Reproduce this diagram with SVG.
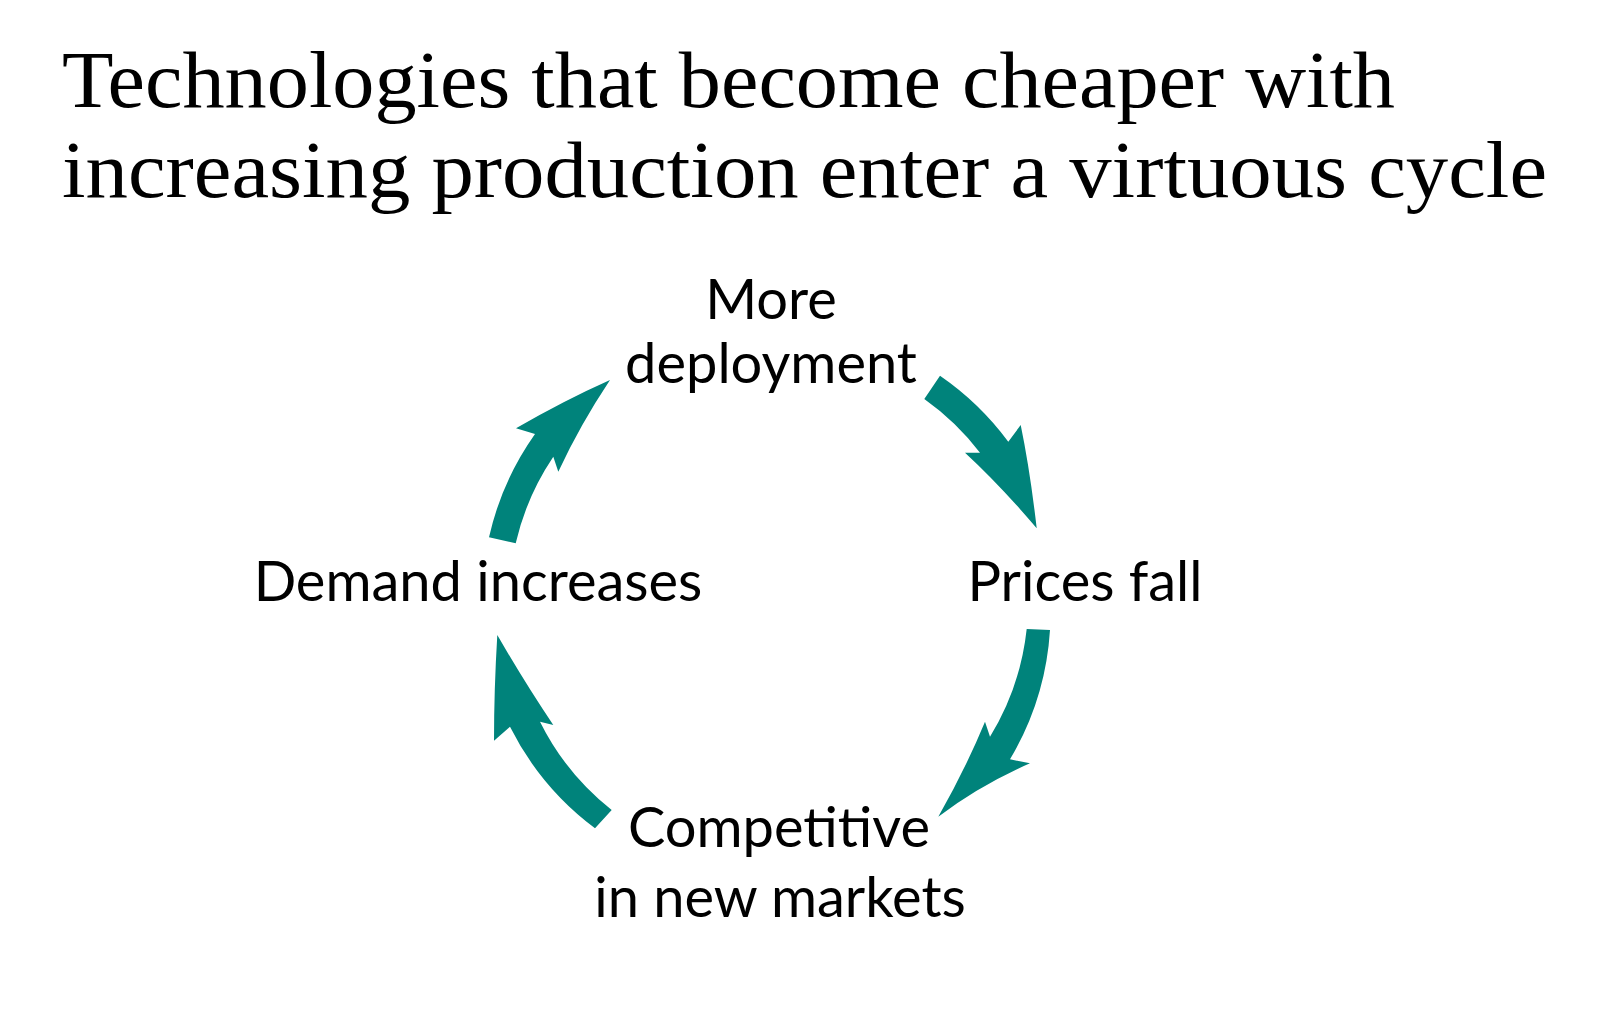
<svg xmlns="http://www.w3.org/2000/svg" width="1600" height="1014" viewBox="0 0 1600 1014">
<style>
.title{font-family:"Liberation Serif","Times New Roman",serif;font-size:80px;fill:#000}
.lbl{font-family:Lato,"Liberation Sans",sans-serif;font-size:56px;fill:#000;text-anchor:middle}
.arrow{fill:#00837b;stroke:none}
</style>
<rect width="1600" height="1014" fill="#fff"/>
<g id="title">
<text class="title" x="62" y="107" textLength="1333" lengthAdjust="spacingAndGlyphs">Technologies that become cheaper with</text>
<text class="title" x="62" y="197" textLength="1485" lengthAdjust="spacingAndGlyphs">increasing production enter a virtuous cycle</text>
</g>
<g id="node-more-deployment">
<text class="lbl" x="771" y="319">More</text>
<text class="lbl" x="771" y="383">deployment</text>
</g>
<g id="node-prices-fall">
<text class="lbl" x="1085" y="601">Prices fall</text>
</g>
<g id="node-competitive">
<text class="lbl" x="779" y="847">Competitive</text>
<text class="lbl" x="780" y="917">in new markets</text>
</g>
<g id="node-demand">
<text class="lbl" x="478" y="601">Demand increases</text>
</g>
<g id="connectors">
<path class="arrow" d="M940,375.7 A288,288 0 0 1 1008.3,441.7 L1020.7,425 Q1030,470 1036.7,528.3 Q1000,485 965,452.7 L980,452.7 A260,260 0 0 0 924.3,399 Z"/>
<path class="arrow" d="M1050,630 A288,288 0 0 1 1010,759.3 L1030,763.3 Q980,785 938.3,816.7 Q965,770 985,721.7 L990,736.7 A260,260 0 0 0 1026.7,629 Z"/>
<path class="arrow" d="M595,828.3 A288,288 0 0 1 510,726.7 L494,740.7 Q494,690 497.3,635 Q525,683 553.3,725 L540,721.7 A260,260 0 0 0 611.7,810 Z"/>
<path class="arrow" d="M489,537.3 A288,288 0 0 1 535,434 L516,428.3 Q565,400 610,380 Q580,425 558.3,471.7 L553.3,456.7 A260,260 0 0 0 515.7,543.3 Z"/>
</g>
</svg>
